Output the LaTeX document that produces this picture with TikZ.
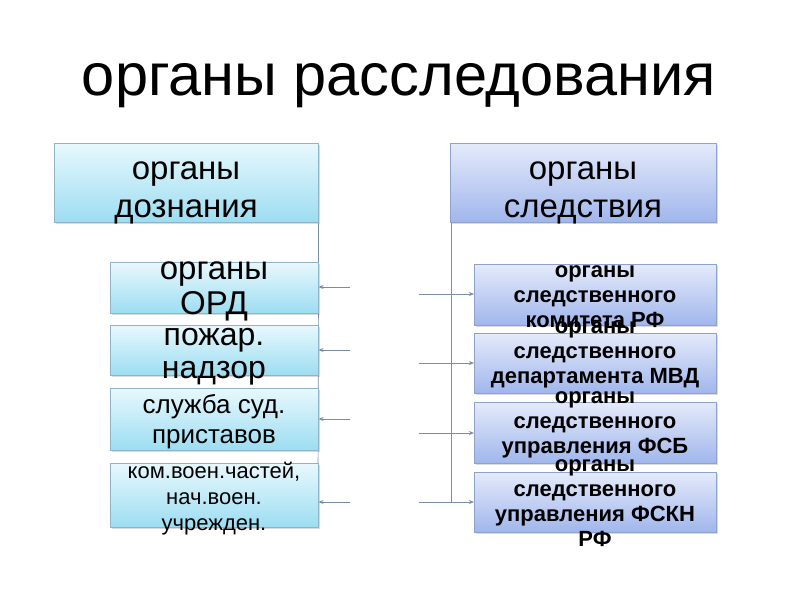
\documentclass[tikz,border=0pt]{standalone}
\usepackage{fontspec}
\setmainfont{Liberation Sans}
\usetikzlibrary{shadows,arrows.meta}
\definecolor{cyanTop}{HTML}{E8F8FD}
\definecolor{cyanBot}{HTML}{9CDDF2}
\definecolor{blueTop}{HTML}{E4EAFA}
\definecolor{blueBot}{HTML}{A0B6EC}
\definecolor{cyanEdge}{HTML}{8FB4C8}
\definecolor{blueEdge}{HTML}{8FA2C8}
\definecolor{lineC}{HTML}{7A8CA8}
\begin{document}
\begin{tikzpicture}[x=1pt,y=-1pt,
  boxbase/.style={line width=0.6pt, inner sep=0pt, anchor=north west,
    drop shadow={opacity=0.28, shadow xshift=1.2pt, shadow yshift=-1.6pt}},
  cbox/.style={boxbase, draw=cyanEdge, top color=cyanTop, bottom color=cyanBot},
  bbox/.style={boxbase, draw=blueEdge, top color=blueTop, bottom color=blueBot},
  txt/.style={align=center, anchor=base, inner sep=0pt, text=black},
  conn/.style={draw=lineC, line width=0.7pt},
  arr/.style={conn, -{Stealth[length=5pt,width=4pt]}}
]
\useasboundingbox[fill=white] (0,0) rectangle (800,600);

% title
\node[txt, font=\fontsize{59.5}{64}\selectfont] (title) at (399,95) {органы расследования};

\coordinate (lend) at (318,502);
\coordinate (rend) at (451,502);

% left header
\node[cbox, minimum width=264pt, minimum height=79pt] (hL) at (54,143) {};
\node[txt, font=\fontsize{33}{38}\selectfont] (hLt) at (186,217) {органы\\дознания};
% right header
\node[bbox, minimum width=266pt, minimum height=79pt] (hR) at (450,143) {};
\node[txt, font=\fontsize{33}{38}\selectfont] (hRt) at (583,217) {органы\\следствия};

\draw[conn] (hL.south east) -- (lend);
\draw[conn] (hR.south west -| rend) -- (rend);

% left column boxes
\node[cbox, minimum width=208pt, minimum height=51pt] (L1) at (110,262) {};
\node[txt, font=\fontsize{33}{35}\selectfont] (L1t) at (214,314) {органы\\ОРД};
\node[cbox, minimum width=208pt, minimum height=50pt] (L2) at (110,325) {};
\node[txt, font=\fontsize{32}{33}\selectfont] (L2t) at (214,378) {пожар.\\надзор};
\node[cbox, minimum width=208pt, minimum height=62pt] (L3) at (110,388) {};
\node[txt, font=\fontsize{26}{30}\selectfont] (L3t) at (214,443) {служба суд.\\приставов};
\node[cbox, minimum width=208pt, minimum height=64pt] (L4) at (110,463) {};
\node[txt, font=\fontsize{22}{26}\selectfont] (L4t) at (214,530) {ком.воен.частей,\\нач.воен.\\учрежден.};

% right column boxes
\node[bbox, minimum width=242pt, minimum height=61pt] (R1) at (474,264) {};
\node[txt, font=\bfseries\fontsize{22}{25}\selectfont] (R1t) at (595,327) {органы\\следственного\\комитета РФ};
\node[bbox, minimum width=242pt, minimum height=60pt] (R2) at (474,333) {};
\node[txt, font=\bfseries\fontsize{22}{25}\selectfont] (R2t) at (595,383) {органы\\следственного\\департамента МВД};
\node[bbox, minimum width=242pt, minimum height=61pt] (R3) at (474,402) {};
\node[txt, font=\bfseries\fontsize{22}{25}\selectfont] (R3t) at (595,453) {органы\\следственного\\управления ФСБ};
\node[bbox, minimum width=242pt, minimum height=60pt] (R4) at (474,472) {};
\node[txt, font=\bfseries\fontsize{22}{25}\selectfont] (R4t) at (595,546) {органы\\следственного\\управления ФСКН\\РФ};

% left arrows
\coordinate (la1) at (350,287);
\coordinate (la2) at (350,350);
\coordinate (la3) at (350,419);
\coordinate (la4) at (350,502);
\draw[arr] (la1) -- (la1 -| L1.east);
\draw[arr] (la2) -- (la2 -| L2.east);
\draw[arr] (la3) -- (la3 -| L3.east);
\draw[arr] (la4) -- (la4 -| L4.east);

% right arrows
\coordinate (ra1) at (419,294);
\coordinate (ra2) at (419,363);
\coordinate (ra3) at (419,433);
\coordinate (ra4) at (419,502);
\draw[arr] (ra1) -- (ra1 -| R1.west);
\draw[arr] (ra2) -- (ra2 -| R2.west);
\draw[arr] (ra3) -- (ra3 -| R3.west);
\draw[arr] (ra4) -- (ra4 -| R4.west);
\end{tikzpicture}
\end{document}
